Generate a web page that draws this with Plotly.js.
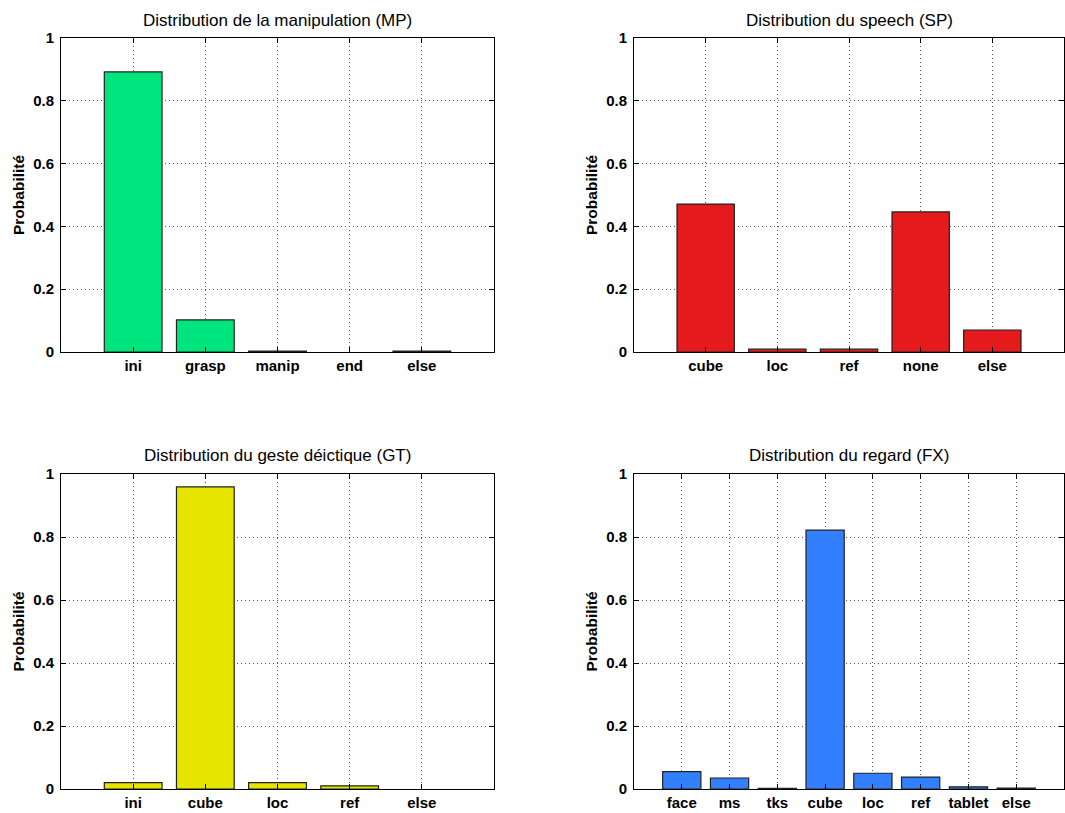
<!DOCTYPE html>
<html>
<head>
<meta charset="utf-8">
<script src="https://cdn.plot.ly/plotly-3.0.1.min.js"></script>
<style>html,body{margin:0;padding:0;background:#fff;}#chart{width:1065px;height:813px;}</style>
</head>
<body>
<div id="chart"></div>
<script>
// Data
const mpCategories = ["ini", "grasp", "manip", "end", "else"];
const mpValues = [0.892, 0.102, 0.003, 0.0, 0.003];
const spCategories = ["cube", "loc", "ref", "none", "else"];
const spValues = [0.471, 0.009, 0.009, 0.446, 0.070];
const gtCategories = ["ini", "cube", "loc", "ref", "else"];
const gtValues = [0.020, 0.959, 0.020, 0.010, 0.0];
const fxCategories = ["face", "ms", "tks", "cube", "loc", "ref", "tablet", "else"];
const fxValues = [0.055, 0.035, 0.002, 0.822, 0.050, 0.038, 0.007, 0.003];
const titles = [
  "Distribution de la manipulation (MP)",
  "Distribution du speech (SP)",
  "Distribution du geste déictique (GT)",
  "Distribution du regard (FX)"
];
const yTickVals = [0, 0.2, 0.4, 0.6, 0.8, 1];
const yTickText = ["0", "0.2", "0.4", "0.6", "0.8", "1"];
const yLabel = "Probabilité";

const W = 1065, H = 813;
const colors = ["#00E47D", "#E41A1C", "#E5E500", "#3380FF"];
const cats = [mpCategories, spCategories, gtCategories, fxCategories];
const vals = [mpValues, spValues, gtValues, fxValues];

// pixel boxes [x0, x1, yTop, yBottom]
const boxes = [
  [61, 494, 38, 352],
  [634, 1064, 38, 352],
  [61, 494, 474, 789],
  [634, 1064, 474, 789]
];

const font = "Liberation Sans, Arial, sans-serif";
const data = [];
const layout = {
  width: W, height: H,
  margin: {l: 0, r: 0, t: 0, b: 0},
  paper_bgcolor: "#fff", plot_bgcolor: "#fff",
  showlegend: false,
  annotations: [],
  font: {family: font, color: "#000", size: 15}
};

for (let i = 0; i < 4; i++) {
  const n = cats[i].length;
  const xa = i === 0 ? "x" : "x" + (i + 1);
  const ya = i === 0 ? "y" : "y" + (i + 1);
  data.push({
    type: "bar",
    x: cats[i].map((c, k) => k),
    y: vals[i],
    xaxis: xa, yaxis: ya,
    width: 0.8,
    marker: {color: colors[i], line: {color: "#222", width: vals[i].map(v => v > 0 ? 1.2 : 0)}},
    hoverinfo: "skip"
  });
  const b = boxes[i];
  const xDom = [b[0] / W, b[1] / W];
  const yDom = [(H - b[3]) / H, (H - b[2]) / H];
  const axBase = {
    showline: true, linecolor: "#000", linewidth: 1, mirror: "ticks",
    ticks: "inside", ticklen: 5, tickcolor: "#000", tickwidth: 1,
    showgrid: true, gridcolor: "#555", griddash: "1px,3px", gridwidth: 1,
    zeroline: false, fixedrange: true,
    tickfont: {family: font, size: 15, color: "#000", weight: "bold"}
  };
  layout["xaxis" + (i === 0 ? "" : i + 1)] = Object.assign({}, axBase, {
    domain: xDom, anchor: ya,
    range: [-1, n],
    tickmode: "array", tickvals: cats[i].map((c, k) => k), ticktext: cats[i],
    ticklabelstandoff: 0
  });
  layout["yaxis" + (i === 0 ? "" : i + 1)] = Object.assign({}, axBase, {
    domain: yDom, anchor: xa,
    range: [0, 1],
    tickmode: "array", tickvals: yTickVals, ticktext: yTickText,
    ticklabelstandoff: 3
  });
  layout.annotations.push({
    text: titles[i], xref: "paper", yref: "paper",
    x: (xDom[0] + xDom[1]) / 2, y: (H - (b[2] - 18)) / H,
    xanchor: "center", yanchor: "middle", showarrow: false,
    font: {family: font, size: 17, color: "#000"}
  });
  layout.annotations.push({
    text: yLabel, xref: "paper", yref: "paper",
    x: (b[0] - 43) / W, y: (yDom[0] + yDom[1]) / 2,
    xanchor: "center", yanchor: "middle", showarrow: false, textangle: -90,
    font: {family: font, size: 15.5, color: "#000", weight: "bold"}
  });
}

Plotly.newPlot("chart", data, layout, {staticPlot: true, displayModeBar: false});
</script>
</body>
</html>
